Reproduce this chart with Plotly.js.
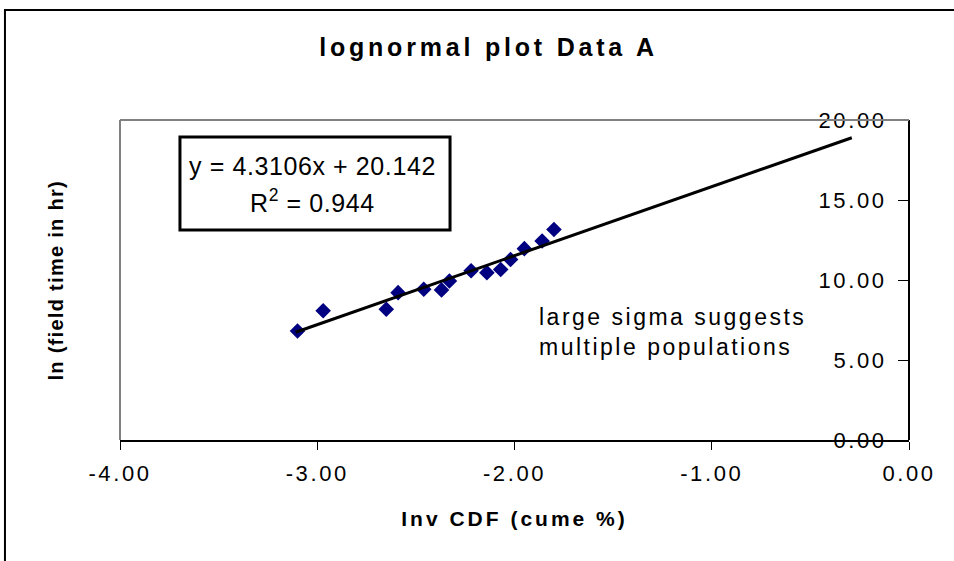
<!DOCTYPE html>
<html>
<head>
<meta charset="utf-8">
<script src="https://cdn.plot.ly/plotly-3.0.1.min.js"></script>
<style>
html,body{margin:0;padding:0;background:#fff;}
#chart{width:954px;height:561px;}
#chart .gtitle{letter-spacing:3.8px;}
#chart .xtick text,#chart .ytick text{letter-spacing:2.6px;}
#chart .xtitle{letter-spacing:3px;}
#chart .annotation[data-index="0"] .annotation-text,#chart .annotation[data-index="1"] .annotation-text{letter-spacing:0.6px;}
#chart .annotation[data-index="2"] .annotation-text{letter-spacing:2.5px;}
#chart .annotation[data-index="3"] .annotation-text{letter-spacing:1.3px;}
</style>
</head>
<body>
<div id="chart"></div>
<script>
// Data
const invCdf = [-3.10, -2.97, -2.65, -2.59, -2.46, -2.37, -2.33, -2.22, -2.14, -2.07, -2.02, -1.95, -1.86, -1.80];
const lnTime = [6.81, 8.08, 8.17, 9.21, 9.42, 9.38, 9.94, 10.58, 10.46, 10.66, 11.28, 11.96, 12.44, 13.16];
const slope = 4.3106;
const intercept = 20.142;
const trendX = [-3.11, -0.29];
const trendY = trendX.map(x => slope * x + intercept);
const xTicks = [-4, -3, -2, -1, 0];
const xTickText = ['-4.00', '-3.00', '-2.00', '-1.00', '0.00'];
const yTicks = [0, 5, 10, 15, 20];
const yTickText = ['0.00', '5.00', '10.00', '15.00', '20.00'];

const font = 'Liberation Sans, Arial, sans-serif';

const traces = [
  {
    x: invCdf, y: lnTime, type: 'scatter', mode: 'markers',
    marker: {symbol: 'diamond', size: 12, color: '#000080'},
    hoverinfo: 'x+y', showlegend: false
  },
  {
    x: trendX, y: trendY, type: 'scatter', mode: 'lines',
    line: {color: '#000000', width: 3},
    hoverinfo: 'skip', showlegend: false
  }
];

const layout = {
  width: 954, height: 561,
  margin: {l: 120, r: 45, t: 120, b: 121},
  paper_bgcolor: '#ffffff', plot_bgcolor: '#ffffff',
  font: {family: font, color: '#000000'},
  title: {
    text: '<b>lognormal plot Data A</b>',
    font: {family: font, size: 25, color: '#000000'},
    x: 0.512, xanchor: 'center', y: 0.916, yanchor: 'middle'
  },
  xaxis: {
    range: [-4, 0], tickvals: xTicks, ticktext: xTickText,
    showgrid: false, zeroline: false,
    showline: true, linecolor: '#000000', linewidth: 2,
    ticks: 'outside', ticklen: 8, tickcolor: '#000000', tickwidth: 1,
    ticklabelstandoff: 5,
    tickfont: {family: font, size: 22, color: '#000000'},
    title: {text: '<b>Inv CDF (cume %)</b>', font: {family: font, size: 21, color: '#000000'}, standoff: 26},
    automargin: false,
    fixedrange: true
  },
  yaxis: {
    range: [0, 20], tickvals: yTicks, ticktext: yTickText,
    anchor: 'free', position: 1, side: 'left',
    showgrid: false, zeroline: false,
    showline: true, linecolor: '#000000', linewidth: 2,
    ticks: 'outside', ticklen: 10, tickcolor: '#000000', tickwidth: 1,
    ticklabelstandoff: 7,
    tickfont: {family: font, size: 22, color: '#000000'},
    automargin: false,
    fixedrange: true
  },
  shapes: [
    // gray top and left plot-area border
    {type: 'line', xref: 'paper', yref: 'paper', x0: 0, x1: 1, y0: 1, y1: 1, line: {color: '#808080', width: 2}},
    {type: 'line', xref: 'paper', yref: 'paper', x0: 0, x1: 0, y0: 0, y1: 1, line: {color: '#808080', width: 2}},
    // outer chart frame
    {type: 'rect', xref: 'paper', yref: 'paper', x0: -0.1458, x1: 1.07, y0: -0.45, y1: 1.34375, line: {color: '#000000', width: 2}, fillcolor: 'rgba(0,0,0,0)'},
    // equation box
    {type: 'rect', xref: 'paper', yref: 'paper', x0: 0.0760, x1: 0.4183, y0: 0.6563, y1: 0.9469, line: {color: '#000000', width: 3}, fillcolor: 'rgba(0,0,0,0)'}
  ],
  annotations: [
    {xref: 'paper', yref: 'paper', x: 0.2445, y: 0.855, text: 'y = 4.3106x + 20.142', showarrow: false,
      font: {family: font, size: 25, color: '#000000'}, xanchor: 'center', yanchor: 'middle'},
    {xref: 'paper', yref: 'paper', x: 0.2445, y: 0.748, text: 'R<sup>2</sup> = 0.944', showarrow: false,
      font: {family: font, size: 25, color: '#000000'}, xanchor: 'center', yanchor: 'middle'},
    {xref: 'paper', yref: 'paper', x: 0.5285, y: 0.336, text: 'large sigma suggests<br>multiple populations', showarrow: false,
      align: 'left', font: {family: font, size: 23, color: '#000000'}, xanchor: 'left', yanchor: 'middle'},
    {xref: 'paper', yref: 'paper', x: -0.0812, y: 0.50, text: '<b>ln (field time in hr)</b>', showarrow: false, textangle: -90,
      font: {family: font, size: 20, color: '#000000'}, xanchor: 'center', yanchor: 'middle'}
  ]
};

Plotly.newPlot('chart', traces, layout, {displayModeBar: false, staticPlot: true});
</script>
</body>
</html>
